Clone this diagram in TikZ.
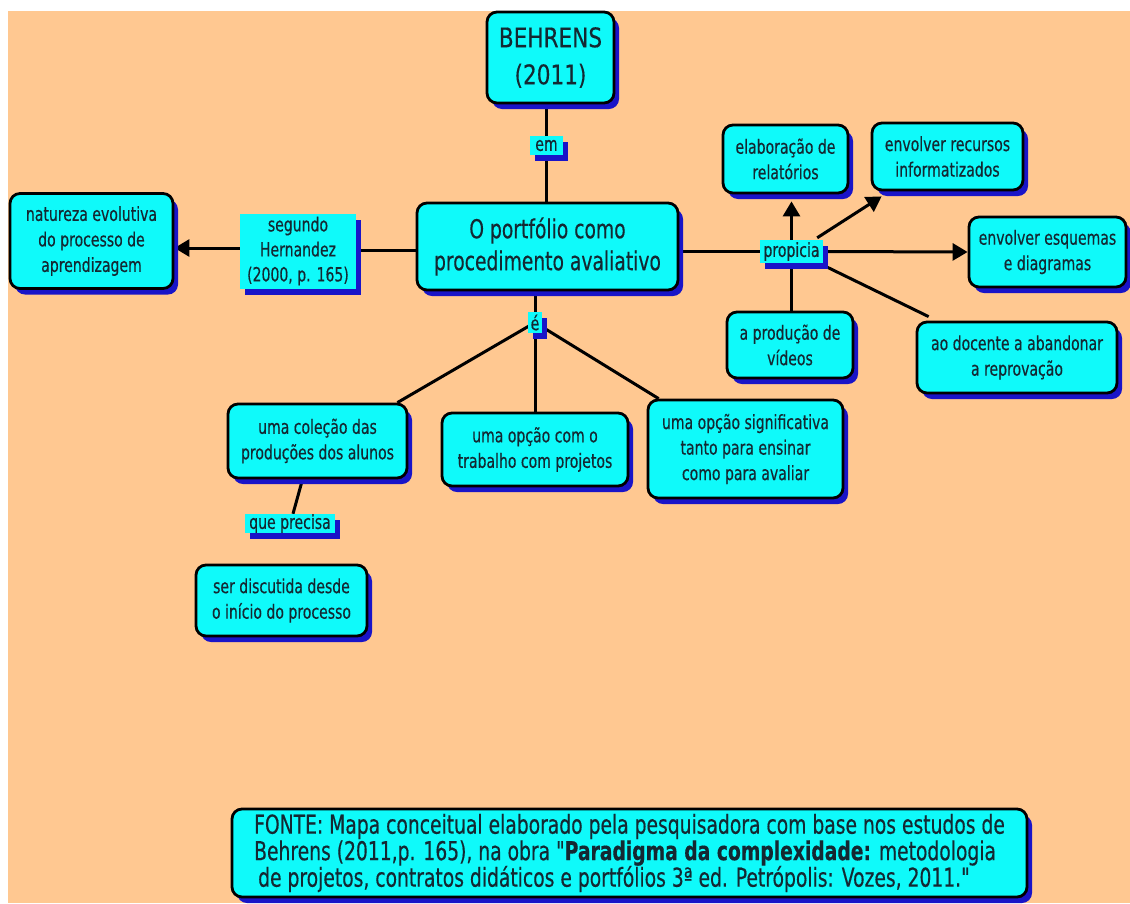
\documentclass[tikz,border=0pt]{standalone}
\usepackage{fontspec}
\setmainfont{DejaVu Sans}[FakeStretch=0.8,FakeBold=0.3]
\newfontfamily\narrowsans{DejaVu Sans}[FakeStretch=0.72,FakeBold=0.4]
\usetikzlibrary{shadows,arrows.meta,calc}
\definecolor{peach}{RGB}{255,200,145}
\definecolor{boxfill}{RGB}{15,250,250}
\definecolor{shblue}{RGB}{25,20,200}
\definecolor{txt}{RGB}{20,40,50}
\pgfdeclarelayer{back}
\pgfdeclarelayer{links}
\pgfsetlayers{back,links,main}

\begin{document}
\begin{tikzpicture}[x=1pt,y=-1pt,
  concept/.style={draw=black, line width=2.8pt, fill=boxfill, rounded corners=10pt,
    text=txt, align=center, inner sep=0pt, font=\narrowsans\fontsize{19.5}{25.5}\selectfont,
    drop shadow={shadow xshift=5pt, shadow yshift=-6pt, fill=shblue, opacity=1}},
  linkbox/.style={fill=boxfill, text=txt, align=center, inner sep=0pt,
    font=\narrowsans\fontsize{19.5}{25}\selectfont,
    drop shadow={shadow xshift=5pt, shadow yshift=-6pt, fill=shblue, opacity=1}},
  conn/.style={line width=3pt, draw=black},
  arr/.style={conn, -{Triangle[length=15pt,width=17pt]}}]
\useasboundingbox (0,0) rectangle (1130,903);

% concepts
\node[concept, minimum width=127, minimum height=91, font=\fontsize{27}{37}\selectfont]
  (behrens) at (550.5,57.5) {BEHRENS\\(2011)};
\node[concept, minimum width=261, minimum height=87, font=\narrowsans\fontsize{26}{32}\selectfont]
  (port) at (547.5,246.5) {O portfólio como\\procedimento avaliativo};
\node[concept, minimum width=163, minimum height=95] (nat) at (91.5,241)
  {natureza evolutiva\\do processo de\\aprendizagem};
\node[concept, minimum width=125, minimum height=68] (elab) at (785.5,159)
  {elaboração de\\relatórios};
\node[concept, minimum width=151, minimum height=67] (recur) at (947.5,156.5)
  {envolver recursos\\informatizados};
\node[concept, minimum width=157, minimum height=70] (esq) at (1047.5,252)
  {envolver esquemas\\e diagramas};
\node[concept, minimum width=126, minimum height=66] (vid) at (790,345)
  {a produção de\\vídeos};
\node[concept, minimum width=200, minimum height=71] (doc) at (1017,357.5)
  {ao docente a abandonar\\a reprovação};
\node[concept, minimum width=179, minimum height=74] (col) at (317.5,441)
  {uma coleção das\\produções dos alunos};
\node[concept, minimum width=186, minimum height=73] (trab) at (535,449.5)
  {uma opção com o\\trabalho com projetos};
\node[concept, minimum width=195, minimum height=98] (sig) at (745.5,449)
  {uma opção significativa\\tanto para ensinar\\como para avaliar};
\node[concept, minimum width=171, minimum height=71] (disc) at (281.5,600.5)
  {ser discutida desde\\o início do processo};
\node[concept, minimum width=795, minimum height=88, align=left,
  font=\narrowsans\fontsize{26}{26.5}\selectfont] (fonte) at (629.5,853)
  {FONTE: Mapa conceitual elaborado pela pesquisadora com base nos estudos de\\
   Behrens (2011,p. 165), na obra "\textbf{Paradigma da complexidade:} metodologia\\
   \hspace{4pt}de projetos, contratos didáticos e portfólios 3ª ed. Petrópolis: Vozes, 2011."};

% linking phrases
\node[linkbox, minimum width=33, minimum height=19] (em) at (546.5,145.5) {em};
\node[linkbox, minimum width=116, minimum height=75] (seg) at (298,251)
  {segundo\\Hernandez\\(2000, p. 165)};
\node[linkbox, minimum width=63, minimum height=23] (prop) at (791.5,251.5) {propicia};
\node[linkbox, minimum width=14, minimum height=21] (eac) at (535,322.5) {é};
\node[linkbox, minimum width=90, minimum height=19] (qp) at (290,523.5) {que precisa};

\begin{pgfonlayer}{back}
  \fill[peach] (8,11) rectangle (1130,903);
\end{pgfonlayer}

\begin{pgfonlayer}{links}
  \draw[conn] (em.north |- behrens.south) -- (em.north);
  \draw[conn] (em.south) -- (em.south |- port.north);
  \draw[conn] ($(seg.east)+(0,-1)$) -- ($(seg.east -| port.west)+(0,-1)$);
  \draw[arr] ($(seg.west)+(0,-3)$) -- ($(seg.west -| nat.east)+(0,-3)$);
  \draw[conn] (prop.west) -- (prop.west -| port.east);
  \draw[arr] (prop.north) -- ($(prop.north |- elab.south)+(0,7)$);
  \draw[arr] ($(prop.north east)+(-6,-2)$) -- ($(recur.south west)+(11,5)$);
  \draw[arr] (prop.east) -- (esq.west);
  \draw[conn] (prop.south) -- (prop.south |- vid.north);
  \draw[conn] ($(prop.south east)+(2,3)$) -- ($(doc.north west)+(13,-4)$);
  \draw[conn] (eac.north) -- (eac.north |- port.south);
  \draw[conn] (eac.center) -- ($(col.north east)+(-11,0)$);
  \draw[conn] (eac.center) -- (trab.north);
  \draw[conn] (eac.center) -- ($(sig.north west)+(12,0)$);
  \draw[conn] ($(col.south)+(-15,0)$) -- ($(qp.north)+(3,0)$);
  \draw[conn] ($(qp.south)+(-4,0)$) -- ($(qp.south)+(-4,0)$ |- disc.north);
\end{pgfonlayer}
\end{tikzpicture}
\end{document}
